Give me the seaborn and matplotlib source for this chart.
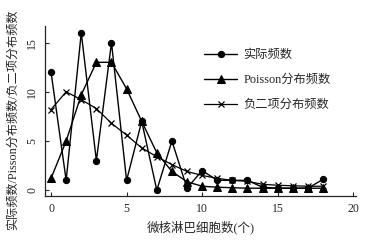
import numpy as np
import pandas as pd
import seaborn as sns
import matplotlib.pyplot as plt

# 数据
x = list(range(19))
actual = [12, 1, 16, 3, 15, 1, 7, 0, 5, 0.2, 2, 1, 1, 1, 0.3, 0.2, 0.2, 0.2, 1.1]
poisson = [1.2, 5, 9.7, 13, 13, 10.3, 7, 3.8, 1.9, 0.85, 0.4, 0.3, 0.25, 0.2, 0.2, 0.2, 0.2, 0.2, 0.2]
negbin = [8.2, 10, 9.2, 8.3, 6.8, 5.6, 4.3, 3.4, 2.6, 1.9, 1.5, 1.2, 1.0, 0.9, 0.6, 0.5, 0.45, 0.4, 0.4]

labels = ['实际频数', 'Poisson分布频数', '负二项分布频数']
x_ticks = [0, 5, 10, 15, 20]
y_ticks = [0, 5, 10, 15]

sns.set_style('ticks')
plt.rcParams['font.family'] = ['Liberation Serif', 'Noto Sans CJK SC', 'DejaVu Sans']

fig = plt.figure(figsize=(3.75, 2.4), dpi=100)
ax = fig.add_axes([0.12, 0.183, 0.83, 0.709])

sns.lineplot(x=x, y=actual, ax=ax, color='black', lw=1, ls='-', marker='o', ms=4.5,
             mec='black', label=labels[0])
sns.lineplot(x=x, y=poisson, ax=ax, color='black', lw=1, ls='-', marker='^', ms=6,
             mec='black', label=labels[1])
sns.lineplot(x=x, y=negbin, ax=ax, color='black', lw=0.9, ls='-', marker='x', ms=4,
             mec='black', mew=0.9, label=labels[2])

ax.set_xlim(-0.4, 20.2)
ax.set_ylim(-0.6, 16.7)
ax.set_xticks(x_ticks)
ax.set_yticks(y_ticks)
ax.tick_params(direction='in', length=3, width=0.8, labelsize=8.5, pad=5)
for t in ax.get_yticklabels():
    t.set_rotation(90)
    t.set_va('center')
sns.despine(ax=ax)
for s in ['left', 'bottom']:
    ax.spines[s].set_linewidth(0.9)

ax.set_xlabel('微核淋巴细胞数(个)', fontsize=9, labelpad=4)
ax.set_ylabel('实际频数/Pisson分布频数/负二项分布频数', fontsize=8.7)
ax.yaxis.set_label_coords(-0.085, 0.45)

ax.legend(loc='upper left', bbox_to_anchor=(0.515, 0.84),
          bbox_transform=fig.transFigure, frameon=False, fontsize=8.8,
          handlelength=2.7, labelspacing=1.05, handletextpad=0.5)

plt.savefig('out.png', dpi=100)
